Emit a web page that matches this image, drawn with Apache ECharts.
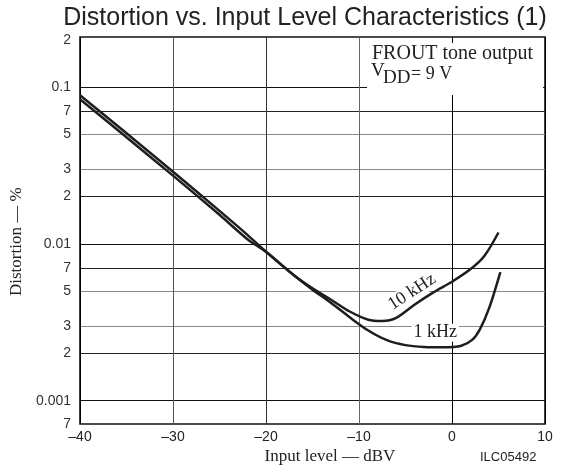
<!DOCTYPE html>
<html>
<head>
<meta charset="utf-8">
<script src="https://cdn.jsdelivr.net/npm/echarts@6/dist/echarts.min.js"></script>
<style>
html,body{margin:0;padding:0;background:#fff;}
#c{width:565px;height:473px;}
</style>
</head>
<body>
<div id="c"></div>
<script>
// ---- data (input level in dBV, distortion in %) ----
const level10k = [-40, -35, -30, -25, -22, -20, -17, -15, -13, -11, -9, -7.5, -6, -4, -2, 0, 2, 3.5, 5];
const dist10k  = [0.0835, 0.0477, 0.0272, 0.0153, 0.0107, 0.0089, 0.0063, 0.0052, 0.0044, 0.0037, 0.00328, 0.00322, 0.00337, 0.0041, 0.0049, 0.00573, 0.0069, 0.0084, 0.0118];
const level1k  = [-40, -35, -30, -25, -22, -20, -17, -15, -13, -11, -9, -7, -5, -3, -1, 1, 2.2, 3, 4, 5.2];
const dist1k   = [0.0885, 0.0506, 0.0288, 0.0162, 0.0114, 0.0089, 0.0063, 0.0051, 0.0042, 0.0034, 0.0028, 0.00243, 0.00226, 0.0022, 0.00219, 0.00224, 0.00245, 0.00285, 0.0039, 0.0066];

const xTickValues = [-40, -30, -20, -10, 0, 10];
const xTickLabels = ['\u201340', '\u201330', '\u201320', '\u201310', '0', '10'];
const yTickValues = [0.001, 0.002, 0.003, 0.005, 0.007, 0.01, 0.02, 0.03, 0.05, 0.07, 0.1, 0.2];
const yTickLabels = ['0.001', '2', '3', '5', '7', '0.01', '2', '3', '5', '7', '0.1', '2'];
const yBottomValue = 0.00071;
const yBottomLabel = '7';

const curveLabels = [
  {name: '10 kHz', level: -4.3, dist: 0.00494, rotate: 33},
  {name: '1 kHz', level: -1.8, dist: 0.00271, rotate: 0}
];

const chart = echarts.init(document.getElementById('c'), null, {renderer: 'canvas'});

function pairs(xs, ys){ return xs.map((x, i) => [x, ys[i]]); }
function findLabel(vals, labels, v){
  for (let i = 0; i < vals.length; i++) if (Math.abs(vals[i] - v) <= Math.abs(vals[i]) * 1e-4 + 1e-12) return labels[i];
  return '';
}
const yAllValues = [yBottomValue].concat(yTickValues);
const yAllLabels = [yBottomLabel].concat(yTickLabels);

const serif = 'Liberation Serif, Times New Roman, serif';
const sans = 'Liberation Sans, Arial, sans-serif';

function mp(lbl){
  return {
    coord: [lbl.level, lbl.dist],
    symbol: 'rect', symbolSize: 1,
    itemStyle: {color: 'rgba(0,0,0,0)'},
    label: {
      show: true, position: 'inside', formatter: lbl.name, rotate: lbl.rotate,
      fontFamily: serif, fontSize: 18, color: '#222', backgroundColor: '#fff',
      padding: [0, 2, 0, 2]
    }
  };
}

const lineStyle = {color: '#1e1e1e', width: 2.5};

chart.setOption({
  animation: false,
  grid: {left: 80, right: 20, top: 37, bottom: 49, show: true, borderColor: '#111', borderWidth: 1.6, backgroundColor: 'transparent'},
  xAxis: {
    type: 'value', min: -40, max: 10, interval: 10,
    axisLine: {show: false}, axisTick: {show: false},
    axisLabel: {
      fontFamily: sans, fontSize: 14, color: '#222', margin: 6,
      formatter: v => findLabel(xTickValues, xTickLabels, v)
    },
    splitLine: {show: true, lineStyle: {color: ['#000', '#555', '#333', '#666', '#000', '#000'], width: 1}}
  },
  yAxis: {
    type: 'log', logBase: 10, min: yBottomValue, max: 0.208,
    axisLine: {show: false},
    axisTick: {show: false, customValues: yAllValues},
    axisLabel: {
      customValues: yAllValues,
      fontFamily: sans, fontSize: 14, color: '#333', margin: 9,
      formatter: v => findLabel(yAllValues, yAllLabels, v)
    },
    splitLine: {show: true, lineStyle: {color: ['rgba(0,0,0,0)', '#111', '#222', '#888', '#888', '#222', '#111', '#222', '#888', '#888', '#222', '#111', 'rgba(0,0,0,0)'], width: 1}}
  },
  series: [
    {type: 'line', name: '10 kHz', data: pairs(level10k, dist10k), showSymbol: false, smooth: 0.3, lineStyle, z: 3,
     markPoint: {data: [mp(curveLabels[0])], z: 10}},
    {type: 'line', name: '1 kHz', data: pairs(level1k, dist1k), showSymbol: false, smooth: 0.3, lineStyle, z: 3,
     markPoint: {data: [mp(curveLabels[1])], z: 10}}
  ],
  graphic: [
    {type: 'text', z: 100, x: 305, y: 6, style: {text: 'Distortion vs. Input Level Characteristics (1)', font: '25px ' + sans, fill: '#222', textAlign: 'center'}},
    {type: 'rect', z: 100, shape: {x: 367, y: 43, width: 176, height: 52}, style: {fill: '#fff'}},
    {type: 'text', z: 101, x: 372, y: 44, style: {text: 'FROUT tone output', font: '20px ' + serif, fill: '#222'}},
    {type: 'text', z: 101, x: 371, y: 62, style: {text: 'V', font: '19px ' + serif, fill: '#222'}},
    {type: 'text', z: 101, x: 383, y: 69, style: {text: 'DD', font: '19px ' + serif, fill: '#222'}},
    {type: 'text', z: 101, x: 411, y: 65, style: {text: '= 9 V', font: '18px ' + serif, fill: '#222'}},
    {type: 'text', z: 100, x: 8, y: 296, rotation: Math.PI / 2, style: {text: 'Distortion \u2014 %', font: '17px ' + serif, fill: '#222'}},
    {type: 'text', z: 100, x: 330, y: 448, style: {text: 'Input level \u2014 dBV', font: '17px ' + serif, fill: '#222', textAlign: 'center'}},
    {type: 'text', z: 100, x: 480, y: 451, style: {text: 'ILC05492', font: '13px ' + sans, fill: '#222'}}
  ]
});
</script>
</body>
</html>
